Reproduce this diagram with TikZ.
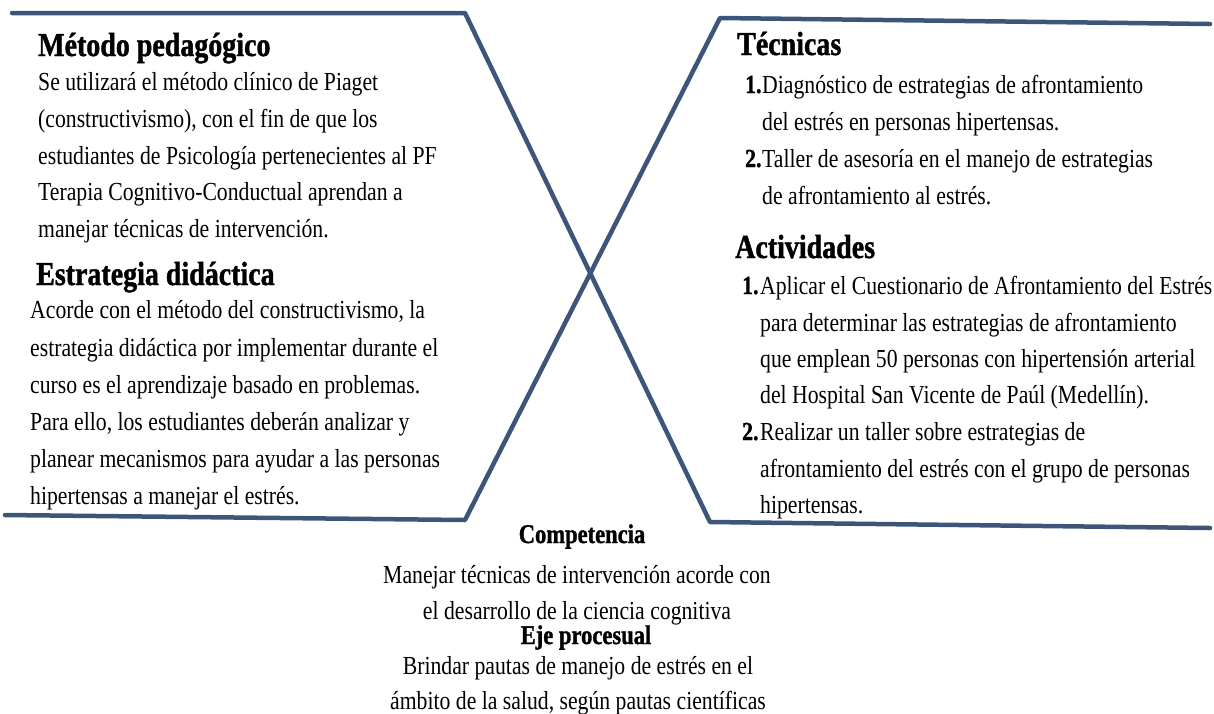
\documentclass[tikz,border=0pt]{standalone}
\usepackage{fontspec}
\setmainfont{Liberation Serif}[FakeStretch=0.835,BoldFeatures={FakeBold=1.2}]
\definecolor{framecol}{HTML}{3C5579}
\begin{document}
\begin{tikzpicture}[x=1pt,y=-1pt,
  frame/.style={draw=framecol,line width=4.5pt,line cap=round,line join=round},
  body/.style={anchor=base west,inner sep=0pt,font=\fontsize{26}{26}\selectfont},
  head/.style={anchor=base west,inner sep=0pt,font=\fontsize{33.5}{33.5}\selectfont\bfseries},
  num/.style={anchor=base west,inner sep=0pt,font=\fontsize{26}{26}\selectfont\bfseries},
  cbody/.style={anchor=base,inner sep=0pt,font=\fontsize{26}{26}\selectfont},
  chead/.style={anchor=base,inner sep=0pt,font=\fontsize{27}{27}\selectfont\bfseries}]
\useasboundingbox (0,0) rectangle (1214,713);
% frame lines
\coordinate (tl0) at (12,13);
\coordinate (tl1) at (465,13);
\coordinate (tr0) at (720,18);
\coordinate (tr1) at (1210,24);
\coordinate (bl0) at (5,515);
\coordinate (bl1) at (465,520);
\coordinate (br0) at (710,522);
\coordinate (br1) at (1210,528);
\draw[frame] (tl0) -- (tl1) -- (br0) -- (br1);
\draw[frame] (tr1) -- (tr0) -- (bl1) -- (bl0);
% left top
\node[head] (h1) at (38,56) {Método pedagógico};
\node[body] (a1) at (38,90) {Se utilizará el método clínico de Piaget};
\node[body] (a2) at (38,127) {(constructivismo), con el fin de que los};
\node[body] (a3) at (38,164) {estudiantes de Psicología pertenecientes al PF};
\node[body] (a4) at (38,200) {Terapia Cognitivo-Conductual aprendan a};
\node[body] (a5) at (38,237) {manejar técnicas de intervención.};
% left bottom
\node[head] (h2) at (36,285) {Estrategia didáctica};
\node[body] (b1) at (30,318) {Acorde con el método del constructivismo, la};
\node[body] (b2) at (30,356) {estrategia didáctica por implementar durante el};
\node[body] (b3) at (30,393) {curso es el aprendizaje basado en problemas.};
\node[body] (b4) at (30,430) {Para ello, los estudiantes deberán analizar y};
\node[body] (b5) at (30,467) {planear mecanismos para ayudar a las personas};
\node[body] (b6) at (30,504) {hipertensas a manejar el estrés.};
% right top
\node[head] (h3) at (737,55) {Técnicas};
\node[num] (n1) at (745,93) {1.};
\node[body] (c1) at (762,93) {Diagnóstico de estrategias de afrontamiento};
\node[body] (c2) at (762,130) {del estrés en personas hipertensas.};
\node[num] (n2) at (745,167) {2.};
\node[body] (c3) at (762,167) {Taller de asesoría en el manejo de estrategias};
\node[body] (c4) at (762,204) {de afrontamiento al estrés.};
% right bottom
\node[head] (h4) at (735,258) {Actividades};
\node[num] (m1) at (742,294) {1.};
\node[body] (d1) at (760,294) {Aplicar el Cuestionario de Afrontamiento del Estrés};
\node[body] (d2) at (760,331) {para determinar las estrategias de afrontamiento};
\node[body] (d3) at (760,367) {que emplean 50 personas con hipertensión arterial};
\node[body] (d4) at (760,403) {del Hospital San Vicente de Paúl (Medellín).};
\node[num] (m2) at (742,440) {2.};
\node[body] (d5) at (760,440) {Realizar un taller sobre estrategias de};
\node[body] (d6) at (760,477) {afrontamiento del estrés con el grupo de personas};
\node[body] (d7) at (760,513) {hipertensas.};
% bottom centre
\node[chead] (h5) at (582,543) {Competencia};
\node[cbody] (e1) at (577,583) {Manejar técnicas de intervención acorde con};
\node[cbody] (e2) at (577,619) {el desarrollo de la ciencia cognitiva};
\node[chead] (h6) at (586,644) {Eje procesual};
\node[cbody] (e3) at (578,674) {Brindar pautas de manejo de estrés en el};
\node[cbody] (e4) at (578,709) {ámbito de la salud, según pautas científicas};
\end{tikzpicture}
\end{document}
